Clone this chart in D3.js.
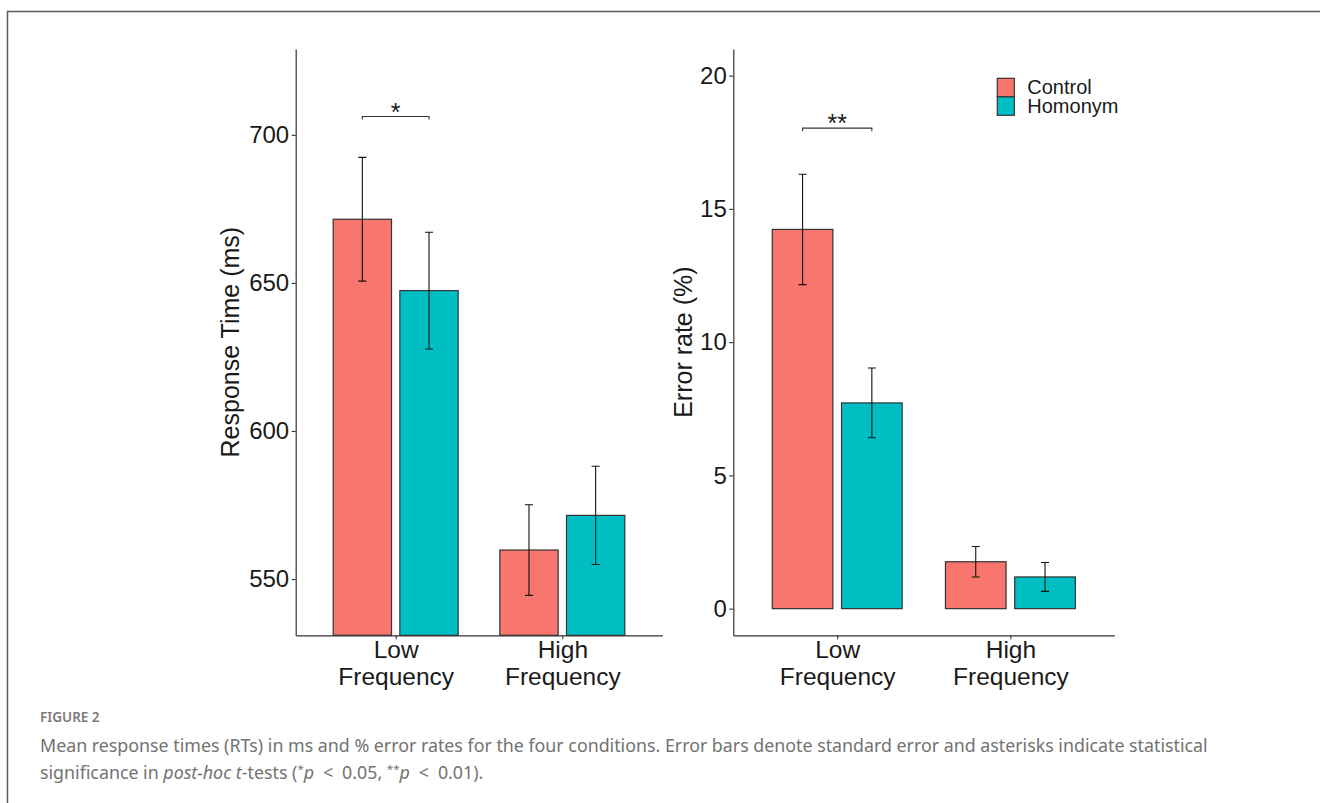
<!DOCTYPE html>
<html>
<head>
<meta charset="utf-8">
<script src="https://cdn.jsdelivr.net/npm/d3@7"></script>
<style>
  body { margin: 0; background: #fff; }
  svg { display: block; }
</style>
</head>
<body>
<script>
const w = 1320;
const h = 803;

// data
const categories = ["Low", "High"];
const categoryLines = [["Low", "Frequency"], ["High", "Frequency"]];
const groups = ["Control", "Homonym"];
const groupColors = ["#F8766D", "#00BFC4"];

const rtControl = [671.5, 559.8];
const rtHomonym = [647.4, 571.5];
const rtSeControl = [20.9, 15.3];
const rtSeHomonym = [19.7, 16.6];
const rtTicks = [550, 600, 650, 700];

const errControl = [14.23, 1.76];
const errHomonym = [7.72, 1.19];
const errSeControl = [2.07, 0.57];
const errSeHomonym = [1.31, 0.54];
const errTicks = [0, 5, 10, 15, 20];

const rtSignif = { category: "Low", level: 706.2, label: "*" };
const errSignif = { category: "Low", level: 18.03, label: "**" };

const captionHead = "FIGURE 2";
const captionLine1 = "Mean response times (RTs) in ms and % error rates for the four conditions. Error bars denote standard error and asterisks indicate statistical";

const chartFont = "'Liberation Sans', Arial, sans-serif";
const captionFont = "'Noto Sans', 'Open Sans', sans-serif";

const svg = d3.select("body")
  .append("svg")
  .attr("width", w)
  .attr("height", h);

// figure frame
svg.append("path")
  .attr("d", "M7.5,803 V11.5 H1320")
  .attr("fill", "none")
  .attr("stroke", "#5a5a5a")
  .attr("stroke-width", 1.5);

const drawPanel = p => {
  const g = svg.append("g");

  const x = d3.scalePoint()
    .domain(categories)
    .range([p.left, p.right])
    .padding(0.6);
  const step = x.step();
  const xSub = d3.scaleBand()
    .domain(groups)
    .range([-0.4 * step, 0.4 * step])
    .paddingInner(0.125)
    .paddingOuter(0.0625);
  const y = d3.scaleLinear()
    .domain(p.domain)
    .range([p.bottom, p.top]);
  const base = Math.max(0, p.domain[0]);

  const rows = [];
  categories.forEach((c, i) => {
    rows.push({ cat: c, grp: groups[0], v: p.control[i], se: p.seControl[i], col: groupColors[0] });
    rows.push({ cat: c, grp: groups[1], v: p.homonym[i], se: p.seHomonym[i], col: groupColors[1] });
  });

  g.append("g")
    .selectAll("rect")
    .data(rows)
    .enter().append("rect")
    .attr("x", d => x(d.cat) + xSub(d.grp))
    .attr("y", d => y(d.v))
    .attr("width", xSub.bandwidth())
    .attr("height", d => y(base) - y(d.v))
    .attr("fill", d => d.col)
    .attr("stroke", "#333")
    .attr("stroke-width", 1.2);

  // error bars
  g.append("g")
    .selectAll("path")
    .data(rows)
    .enter().append("path")
    .attr("d", d => {
      const cx = x(d.cat) + xSub(d.grp) + xSub.bandwidth() / 2;
      const y0 = y(d.v - d.se), y1 = y(d.v + d.se);
      return `M${cx - 4},${y1} H${cx + 4} M${cx},${y1} V${y0} M${cx - 4},${y0} H${cx + 4}`;
    })
    .attr("fill", "none")
    .attr("stroke", "#111")
    .attr("stroke-width", 1.1);

  // axes
  const yAxis = g.append("g")
    .attr("transform", `translate(${p.left},0)`)
    .call(d3.axisLeft(y).tickValues(p.ticks).tickSize(4).tickSizeOuter(0).tickPadding(2.5));
  yAxis.selectAll("text")
    .attr("font-family", chartFont)
    .attr("font-size", 24)
    .attr("fill", "#1a1a1a");

  const xAxis = g.append("g")
    .attr("transform", `translate(0,${p.bottom})`)
    .call(d3.axisBottom(x).tickSize(4).tickSizeOuter(0));
  xAxis.selectAll("text").remove();
  xAxis.selectAll(".tick")
    .append("text")
    .attr("font-family", chartFont)
    .attr("font-size", 24.5)
    .attr("fill", "#1a1a1a")
    .attr("text-anchor", "middle")
    .selectAll("tspan")
    .data((d, i) => categoryLines[i])
    .enter().append("tspan")
    .attr("x", 0)
    .attr("y", (d, i) => 23.2 + i * 27)
    .text(d => d);

  [yAxis, xAxis].forEach(a => {
    a.select(".domain").attr("stroke", "#333").attr("stroke-width", 1.2);
    a.selectAll(".tick line").attr("stroke", "#333").attr("stroke-width", 1.1);
  });

  // axis title
  svg.append("text")
    .attr("transform", `translate(${p.titleX},${(p.top + p.bottom) / 2}) rotate(-90)`)
    .attr("text-anchor", "middle")
    .attr("font-family", chartFont)
    .attr("font-size", 25)
    .attr("fill", "#1a1a1a")
    .text(p.title);

  // significance bracket
  const s = p.signif;
  const bx0 = x(s.category) + xSub(groups[0]) + xSub.bandwidth() / 2;
  const bx1 = x(s.category) + xSub(groups[1]) + xSub.bandwidth() / 2;
  const by = y(s.level);
  g.append("path")
    .attr("d", `M${bx0},${by + 3} V${by} H${bx1} V${by + 3}`)
    .attr("fill", "none")
    .attr("stroke", "#333")
    .attr("stroke-width", 1.1);
  g.append("text")
    .attr("x", (bx0 + bx1) / 2)
    .attr("y", by + 4)
    .attr("text-anchor", "middle")
    .attr("font-family", chartFont)
    .attr("font-size", 25)
    .attr("fill", "#1a1a1a")
    .text(s.label);
};

drawPanel({
  left: 295.7, right: 662.3, top: 49, bottom: 635.3,
  domain: [531, 729], ticks: rtTicks,
  control: rtControl, homonym: rtHomonym,
  seControl: rtSeControl, seHomonym: rtSeHomonym,
  title: "Response Time (ms)", titleX: 239,
  signif: rtSignif
});

drawPanel({
  left: 733.3, right: 1114.3, top: 49, bottom: 635.3,
  domain: [-1, 21], ticks: errTicks,
  control: errControl, homonym: errHomonym,
  seControl: errSeControl, seHomonym: errSeHomonym,
  title: "Error rate (%)", titleX: 692,
  signif: errSignif
});

// legend
const legend = svg.append("g")
  .attr("id", "legend")
  .attr("transform", "translate(997.3,78.3)");
legend.selectAll("rect")
  .data(groups)
  .enter().append("rect")
  .attr("x", 0)
  .attr("y", (d, i) => i * 18.5)
  .attr("width", 17)
  .attr("height", 18.5)
  .attr("fill", (d, i) => groupColors[i])
  .attr("stroke", "#333")
  .attr("stroke-width", 1.2);
legend.selectAll("text")
  .data(groups)
  .enter().append("text")
  .attr("x", 30)
  .attr("y", (d, i) => 15.7 + i * 18.6)
  .attr("font-family", chartFont)
  .attr("font-size", 20)
  .attr("fill", "#1a1a1a")
  .text(d => d);

// caption
const cap = svg.append("g").attr("fill", "#727272").attr("font-family", captionFont);
cap.append("text")
  .attr("x", 40)
  .attr("y", 722)
  .attr("font-size", 13.5)
  .attr("font-weight", 600)
  .attr("fill", "#7a7a7a")
  .text(captionHead);

const l1 = cap.append("text")
  .attr("x", 40)
  .attr("y", 752)
  .attr("font-size", 16)
  .text(captionLine1);
const fs = 16 * 1169 / l1.node().getComputedTextLength();
l1.attr("font-size", fs);

const l2 = cap.append("text")
  .attr("x", 40)
  .attr("y", 779)
  .attr("font-size", fs)
  .attr("xml:space", "preserve");
const parts = [
  ["significance in ", ""],
  ["post-hoc", "i"],
  [" ", ""],
  ["t", "i"],
  ["-tests (", ""],
  ["*", "sup"],
  ["p", "i"],
  ["\u2002<\u2002", ""],
  ["0.05, ", ""],
  ["**", "sup"],
  ["p", "i"],
  ["\u2002<\u2002", ""],
  ["0.01).", ""]
];
parts.forEach(([t, k]) => {
  const ts = l2.append("tspan").text(t);
  if (k === "i") ts.attr("font-style", "italic");
  if (k === "sup") ts.attr("font-size", fs * 0.65).attr("dy", -6);
  if (k === "i" && t === "p") ts.attr("dy", 6);
});
</script>
</body>
</html>
